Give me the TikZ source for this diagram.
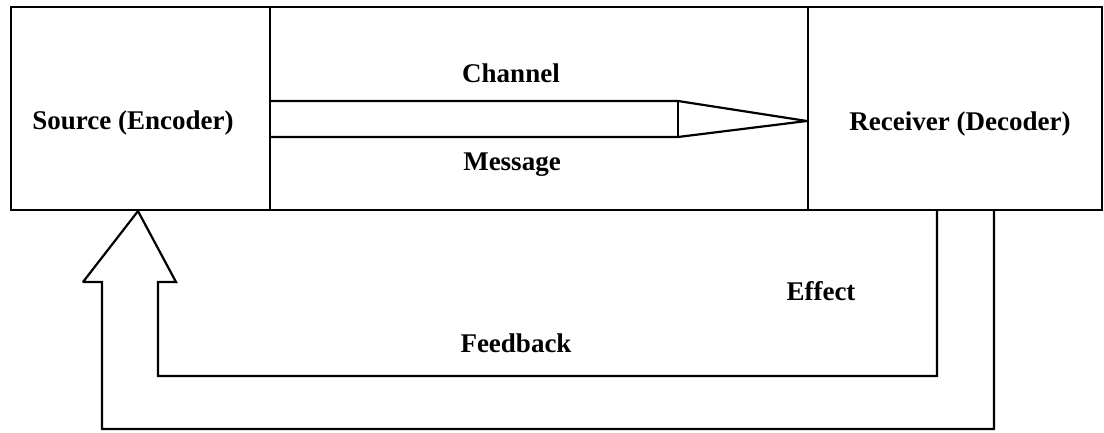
\documentclass[tikz,border=0pt]{standalone}
\usepackage{fontspec}
\setmainfont{Liberation Serif}
\begin{document}
\begin{tikzpicture}[x=1pt,y=-1pt,
  box/.style={draw,line width=2.2pt,inner sep=0pt},
  lbl/.style={inner sep=0pt,font=\bfseries\fontsize{27}{30}\selectfont},
  pipe/.style={draw,line width=2.2pt,line join=miter,miter limit=2}]
\useasboundingbox (0,0) rectangle (1104,433);
\node[box,minimum width=259pt,minimum height=203pt] (src) at (140.5,108.5) {};
\node[box,minimum width=538pt,minimum height=203pt] (chn) at (539,108.5) {};
\node[box,minimum width=294pt,minimum height=203pt] (rcv) at (955,108.5) {};
\node[lbl] (srct) at (133,123) {Source (Encoder)};
\node[lbl] (rcvt) at (960,124) {Receiver (Decoder)};
\node[lbl] (chl) at (511,73) {Channel};
\node[lbl] (msg) at (512,165) {Message};
\node[lbl] (eff) at (821,291) {Effect};
\node[lbl] (fb) at (516,343) {Feedback};
% message arrow from source to receiver
\coordinate (mt) at (src.east |- 0,101);
\coordinate (mb) at (src.east |- 0,137);
\coordinate (tip) at (rcv.west |- 0,121);
\draw[pipe] (mt) -- (678,101) -- (tip) -- (678,137) -- (mb);
\draw[pipe] (678,101) -- (678,137);
% feedback block arrow from receiver back to source
\coordinate (ftip) at (src.south -| 138,0);
\draw[pipe] (rcv.south -| 937,0) -- (937,376) -- (158,376) -- (158,282) -- (176,282) -- (ftip)
  -- (83,282) -- (102,282) -- (102,429) -- (994,429) -- (rcv.south -| 994,0);
\end{tikzpicture}
\end{document}
